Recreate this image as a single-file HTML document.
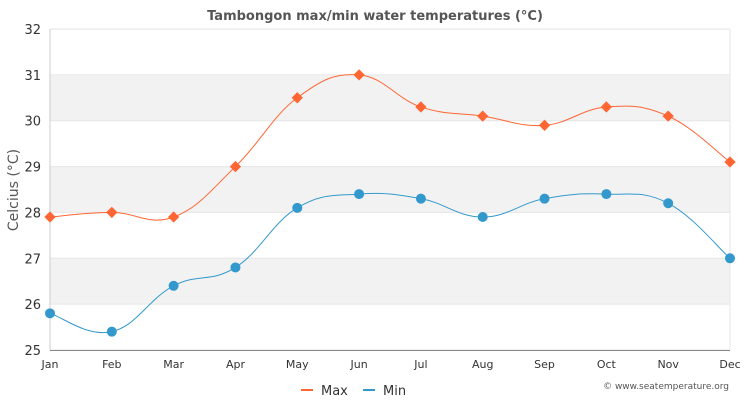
<!DOCTYPE html>
<html><head><meta charset="utf-8"><style>
body{margin:0;background:#fff;font-family:"DejaVu Sans","Liberation Sans",sans-serif;}
svg{display:block}
</style></head><body>
<svg id="c" width="750" height="400" xmlns="http://www.w3.org/2000/svg">
<rect width="750" height="400" fill="#fff"/>
<g id="bands"></g>
<text x="375" y="20" text-anchor="middle" font-size="13" font-weight="bold" fill="#555">Tambongon max/min water temperatures (°C)</text>
<text transform="translate(18,190) rotate(-90)" text-anchor="middle" font-size="14" fill="#555">Celcius (°C)</text>
<g id="ax"></g>
<g id="ser"></g>
<line x1="301" y1="390" x2="313" y2="390" stroke="#ff6633" stroke-width="2"/>
<text x="321" y="395" font-size="13" fill="#333">Max</text>
<line x1="363" y1="390" x2="375" y2="390" stroke="#3399cc" stroke-width="2"/>
<text x="383" y="395" font-size="13" fill="#333">Min</text>
<text x="729" y="389" text-anchor="end" font-size="9" fill="#555">© www.seatemperature.org</text>
</svg>
<script>
const X=i=>50+i*680/11, Y=v=>350-(v-25)*321/7;
let b='',a='';
for(let v=25;v<=32;v++){
 if(v==26||v==28||v==30) b+=`<rect x="50" y="${Y(v+1)}" width="680" height="${Y(v)-Y(v+1)}" fill="#f2f2f2"/>`;
 b+=`<line x1="50" x2="730" y1="${Y(v)}" y2="${Y(v)}" stroke="#e6e6e6"/>`;
 a+=`<text x="41" y="${Y(v)+5}" text-anchor="end" font-size="13" fill="#333">${v}</text>`;
}
b+=`<line x1="50" x2="50" y1="29" y2="350" stroke="#ccc"/><line x1="730" x2="730" y1="29" y2="350" stroke="#e6e6e6"/><line x1="50" x2="730" y1="350.5" y2="350.5" stroke="#888"/>`;
const m=['Jan','Feb','Mar','Apr','May','Jun','Jul','Aug','Sep','Oct','Nov','Dec'];
m.forEach((t,i)=>{a+=`<text x="${X(i)}" y="368" text-anchor="middle" font-size="11" fill="#333">${t}</text>`;});
document.getElementById('bands').innerHTML=b;document.getElementById('ax').innerHTML=a;
const mx=[27.9,28.0,27.9,29.0,30.5,31.0,30.3,30.1,29.9,30.3,30.1,29.1];
const mn=[25.8,25.4,26.4,26.8,28.1,28.4,28.3,27.9,28.3,28.4,28.2,27.0];
function path(d){const p=d.map((v,i)=>[X(i),Y(v)]);let s=`M${p[0]}`;
 for(let i=0;i<p.length-1;i++){const p0=p[i-1]||p[i],p1=p[i],p2=p[i+1],p3=p[i+2]||p2;const k=0.2;
 s+=` C${p1[0]+(p2[0]-p0[0])*k},${p1[1]+(p2[1]-p0[1])*k} ${p2[0]-(p3[0]-p1[0])*k},${p2[1]-(p3[1]-p1[1])*k} ${p2[0]},${p2[1]}`;}return s;}
let s=`<path d="${path(mx)}" fill="none" stroke="#ff6633" stroke-width="1"/><path d="${path(mn)}" fill="none" stroke="#3399cc" stroke-width="1"/>`;
mx.forEach((v,i)=>{const x=X(i),y=Y(v);s+=`<rect x="${x-4}" y="${y-4}" width="8" height="8" fill="#ff6633" transform="rotate(45 ${x} ${y})"/>`;});
mn.forEach((v,i)=>{s+=`<circle cx="${X(i)}" cy="${Y(v)}" r="5" fill="#3399cc"/>`;});
document.getElementById('ser').innerHTML=s;
</script>
</body></html>
